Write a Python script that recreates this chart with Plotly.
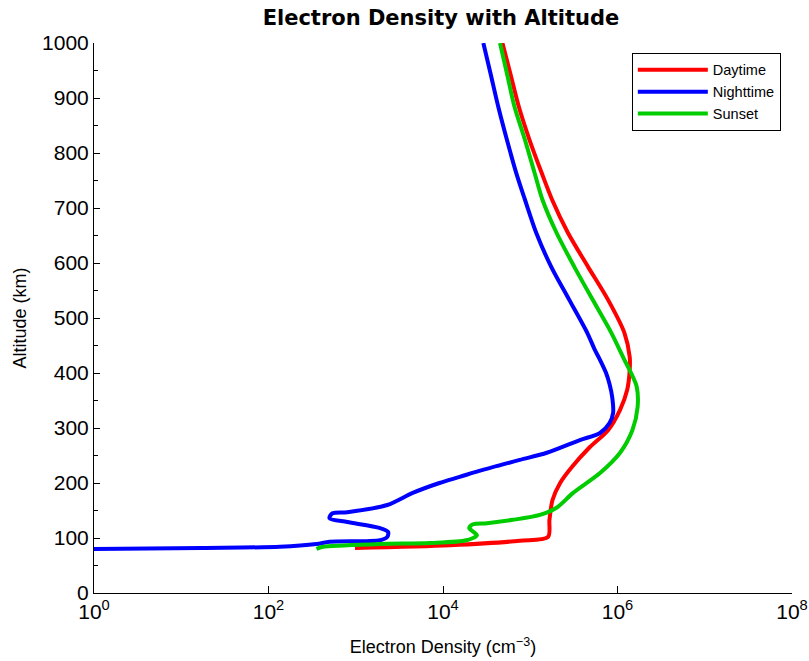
import plotly.graph_objects as go

# ---- data ----
day_alt = [82, 87, 95, 102, 133, 169, 200, 229, 265, 296, 333, 369, 405, 429, 473, 533, 593, 655, 715, 764, 824,
           884, 945, 1000]
day_ne = [9.8e2, 1.2e4, 7.6e4, 1.6e5, 1.66e5, 1.8e5, 2.2e5, 3.0e5, 4.8e5, 7.8e5, 1.07e6, 1.29e6, 1.38e6, 1.38e6,
          1.2e6, 7.8e5, 4.6e5, 2.7e5, 1.78e5, 1.35e5, 9.8e4, 7.4e4, 5.9e4, 4.8e4]

night_alt = [80, 82, 84, 89, 93, 96, 102, 111, 118, 129, 136, 145, 147, 160, 182, 200, 211, 222, 242, 255, 278, 291,
             309, 327, 356, 380, 400, 424, 442, 473, 533, 593, 655, 715, 764, 824, 884, 945, 1000]
night_ne = [1.0, 17, 135, 355, 500, 1.9e3, 2.3e3, 2.35e3, 1.9e3, 800, 500, 540, 800, 2.3e3, 4.5e3, 9.1e3, 1.55e4,
            2.6e4, 7.6e4, 1.55e5, 3.7e5, 6.3e5, 8.1e5, 8.9e5, 8.7e5, 8.1e5, 7.4e5, 6.3e5, 5.5e5, 4.5e5, 2.8e5,
            1.74e5, 1.17e5, 8.7e4, 6.9e4, 5.4e4, 4.3e4, 3.5e4, 2.9e4]

sun_alt = [80, 84, 89, 91, 96, 105, 118, 125, 127, 133, 142, 155, 182, 218, 255, 296, 338, 375, 405, 424, 473, 533,
           593, 655, 715, 764, 824, 884, 945, 1000]
sun_ne = [355, 420, 1.9e3, 7.1e3, 1.86e4, 2.45e4, 2.0e4, 2.2e4, 3.2e4, 6.3e4, 1.29e5, 2.0e5, 3.1e5, 6.3e5, 1.07e6,
          1.48e6, 1.7e6, 1.66e6, 1.38e6, 1.2e6, 8.5e5, 5.2e5, 3.2e5, 2.0e5, 1.38e5, 1.12e5, 8.7e4, 6.6e4, 5.4e4,
          4.5e4]

x_tickvals = [1, 1e2, 1e4, 1e6, 1e8]
x_ticktext = ["10<sup>0</sup>", "10<sup>2</sup>", "10<sup>4</sup>", "10<sup>6</sup>", "10<sup>8</sup>"]
y_tickvals = [0, 100, 200, 300, 400, 500, 600, 700, 800, 900, 1000]
y_minor = [50, 150, 250, 350, 450, 550, 650, 750, 850, 950]

fig = go.Figure()
series = [("Daytime", day_ne, day_alt, "#ff0000"),
          ("Nighttime", night_ne, night_alt, "#0000ff"),
          ("Sunset", sun_ne, sun_alt, "#00cc00")]
for name, xs, ys, col in series:
    fig.add_trace(go.Scatter(x=xs, y=ys, mode="lines", name=name,
                             line=dict(color=col, width=4, shape="spline", smoothing=0.8)))

fig.update_layout(
    width=809, height=661,
    margin=dict(l=94, r=17, t=43, b=68, autoexpand=False),
    paper_bgcolor="white", plot_bgcolor="white",
    font=dict(family="Liberation Sans, Arial, sans-serif", color="black"),
    title=dict(text="<b>Electron Density with Altitude</b>", x=0.545, xanchor="center",
               y=0.974, yanchor="middle",
               font=dict(family="DejaVu Sans", size=21, color="black")),
    legend=dict(x=0.984, y=0.982, xanchor="right", yanchor="top",
                bordercolor="black", borderwidth=1, bgcolor="white",
                font=dict(size=14.5), itemwidth=70, tracegroupgap=0),
    showlegend=True,
)
fig.update_xaxes(type="log", range=[0, 8], tickvals=x_tickvals, ticktext=x_ticktext, automargin=False,
                 ticks="inside", ticklen=7, tickcolor="black", showline=True, linecolor="black",
                 linewidth=1, showgrid=False, zeroline=False, tickfont=dict(size=21),
                 title=dict(text="Electron Density (cm<sup>−3</sup>)", font=dict(size=18), standoff=18))
fig.update_yaxes(range=[0, 1000], tickvals=y_tickvals, ticks="inside", ticklen=6, tickcolor="black",
                 automargin=False,
                 showline=True, linecolor="black", linewidth=1, showgrid=False, zeroline=False,
                 tickfont=dict(size=21),
                 minor=dict(tickvals=y_minor, ticks="inside", ticklen=4, tickcolor="black", showgrid=False),
                 title=dict(text="Altitude (km)", font=dict(size=18), standoff=10))

fig.write_html("out.html")
